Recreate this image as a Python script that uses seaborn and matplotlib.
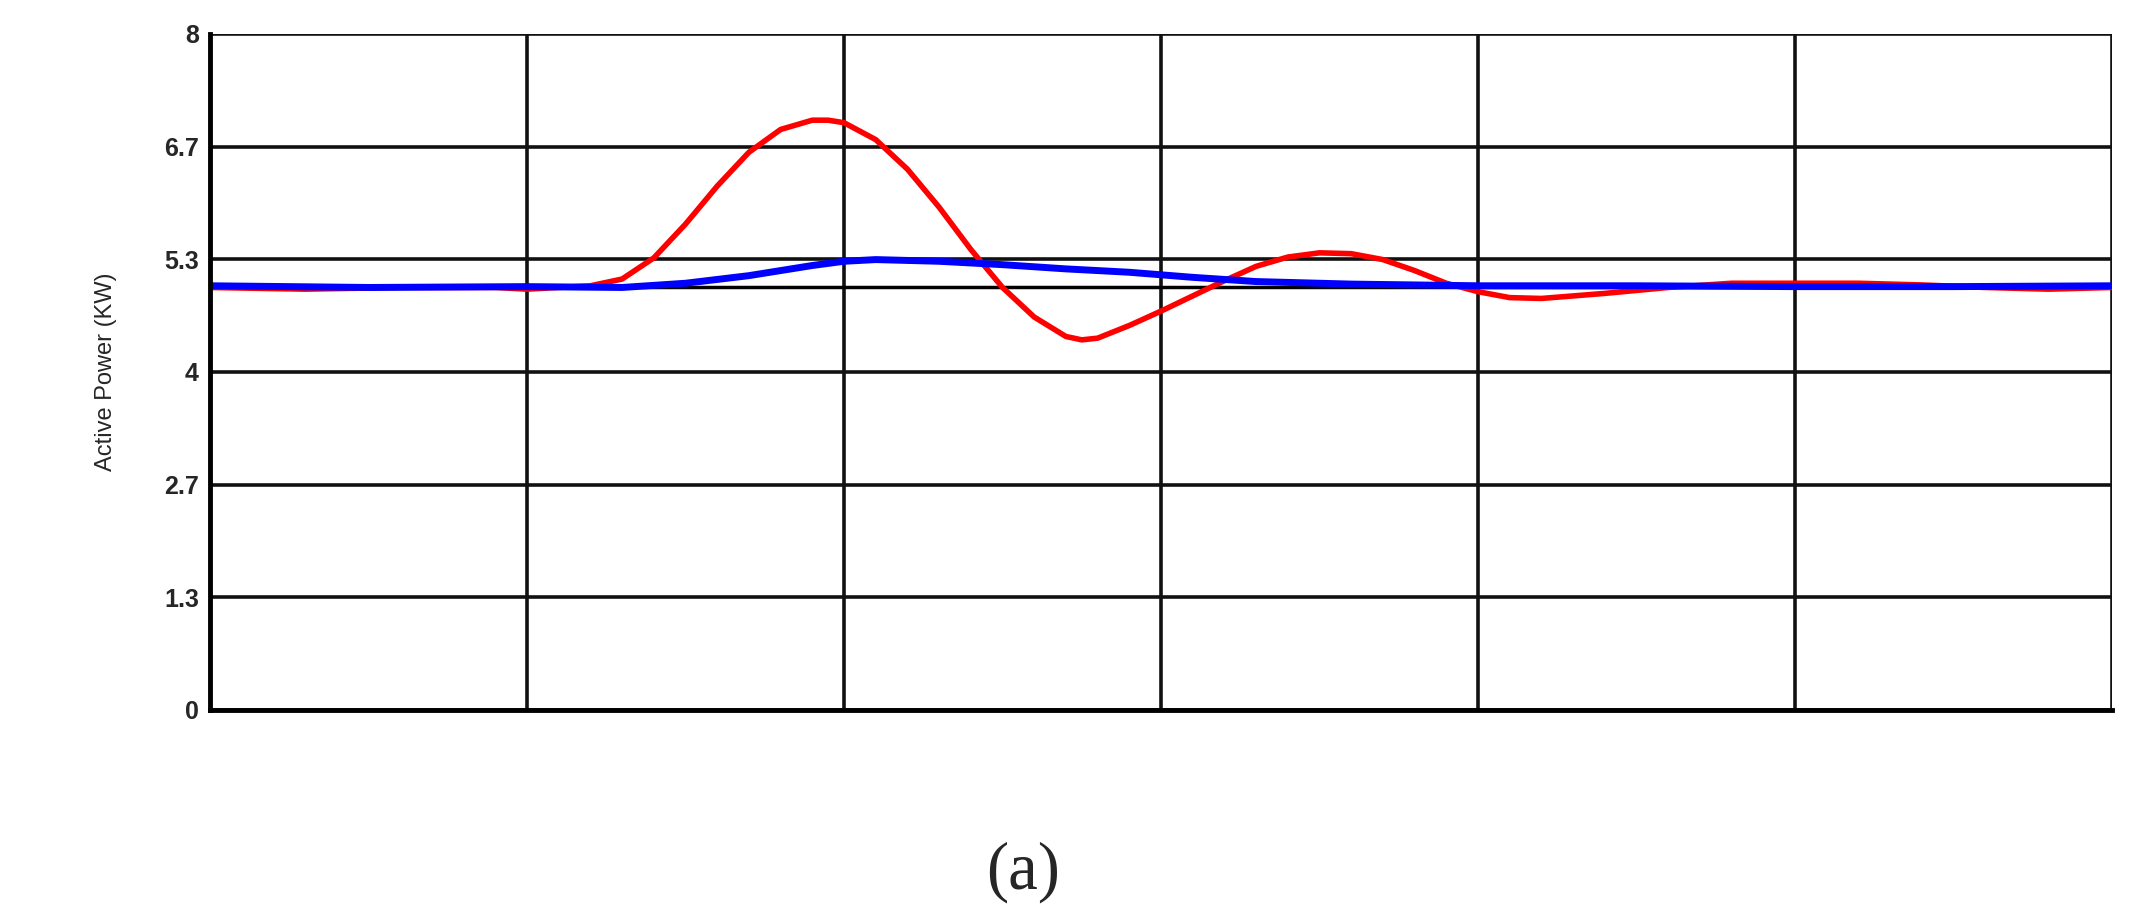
import matplotlib
matplotlib.use("Agg")
import matplotlib.pyplot as plt
import seaborn as sns

red_t = [0, 0.3, 0.6, 0.9, 1.0, 1.1, 1.2, 1.3, 1.4, 1.5, 1.6, 1.7, 1.8, 1.9, 1.95, 2.0, 2.1, 2.2, 2.3, 2.4, 2.5,
         2.6, 2.7, 2.75, 2.8, 2.9, 3.0, 3.1, 3.2, 3.3, 3.4, 3.5, 3.6, 3.7, 3.8, 3.9, 4.0, 4.1, 4.2, 4.3, 4.4,
         4.6, 4.8, 5.0, 5.2, 5.4, 5.6, 5.8, 6.0]
red_v = [5.0, 4.98, 5.0, 5.0, 4.98, 5.0, 5.02, 5.1, 5.35, 5.75, 6.2, 6.6, 6.87, 6.98, 6.98, 6.95, 6.75, 6.4, 5.95, 5.45, 5.0,
         4.65, 4.42, 4.38, 4.4, 4.55, 4.72, 4.9, 5.08, 5.25, 5.36, 5.41, 5.4, 5.33, 5.2, 5.05, 4.95, 4.88, 4.87, 4.9, 4.93,
         5.0, 5.05, 5.05, 5.05, 5.03, 5.0, 4.98, 5.0]
blue_t = [0, 0.5, 1.0, 1.3, 1.5, 1.7, 1.9, 2.0, 2.1, 2.3, 2.5, 2.7, 2.9, 3.1, 3.3, 3.6, 4.0, 4.5, 5.0, 5.5, 6.0]
blue_v = [5.02, 5.0, 5.01, 5.0, 5.05, 5.14, 5.26, 5.31, 5.33, 5.31, 5.27, 5.22, 5.18, 5.12, 5.07, 5.04, 5.02, 5.02, 5.01, 5.01, 5.02]
ytick_vals = [0, 4/3, 8/3, 4, 16/3, 20/3, 8]
ytick_labels = ["0", "1.3", "2.7", "4", "5.3", "6.7", "8"]

sns.set_style("white")
fig = plt.figure(figsize=(21.54, 9.09), dpi=100)
ax = fig.add_axes([0.0975, 0.219, 0.883, 0.7436])
sns.lineplot(x=red_t, y=red_v, ax=ax, color="#ff0000", linewidth=4)
sns.lineplot(x=blue_t, y=blue_v, ax=ax, color="#0000ff", linewidth=5)
ax.axhline(5.0, color="black", linewidth=2.5, zorder=1)
ax.set_xlim(0, 6)
ax.set_ylim(0, 8)
ax.set_xticks(range(7))
ax.set_xticklabels([])
ax.set_yticks(ytick_vals)
ax.set_yticklabels(ytick_labels, fontsize=18, fontweight="bold", family="Liberation Sans")
ax.tick_params(axis="both", length=0, pad=8)
ax.grid(True, color="#111111", linewidth=2.6)
ax.set_axisbelow(True)
for s in ["top", "right"]:
    ax.spines[s].set_visible(False)
for s in ["left", "bottom"]:
    ax.spines[s].set_color("black")
    ax.spines[s].set_linewidth(3.5)
ax.set_ylabel("Active Power (KW)", fontsize=17, family="Liberation Sans", labelpad=34)
fig.text(0.475, 0.04, "(a)", fontsize=48, family="Liberation Serif", ha="center", va="center")
fig.savefig("out.png", dpi=100)
